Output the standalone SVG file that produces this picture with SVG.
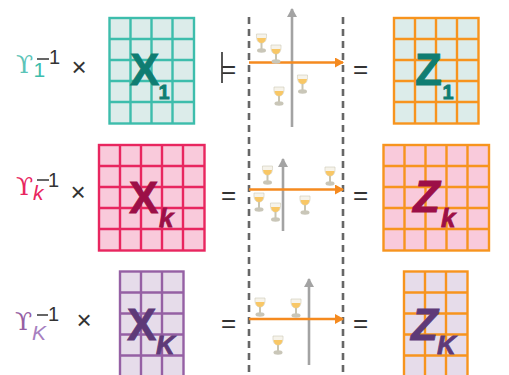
<svg xmlns="http://www.w3.org/2000/svg" width="509" height="375" viewBox="0 0 509 375">
<style>
text{font-family:"Liberation Sans",Arial,sans-serif}
.sym{font-family:"DejaVu Serif","Liberation Serif",serif;font-size:25px}
.sub{font-size:21px}
.sup{font-size:20px;fill:#333}
.op{font-size:26px;fill:#333}
.big{font-size:44px;font-weight:bold}
.idx{font-size:26px;font-weight:bold}
.one{font-size:20px;font-weight:bold}
.i{font-style:italic}
.teal{fill:#0f7d72;stroke:#0f7d72;stroke-width:.8}
.crim{fill:#9c0f47;stroke:#9c0f47;stroke-width:.8}
.plum{fill:#5e3a78;stroke:#5e3a78;stroke-width:.8}
.dash{stroke:#666;stroke-width:2.6;stroke-dasharray:7 5;fill:none}
.gray{stroke:#a3a3a3;stroke-width:2.6;fill:none}
.or{stroke:#f58a1f;stroke-width:2.4;fill:none}
.minus{stroke:#333;stroke-width:1.5}
.gt{fill:#dcecea;stroke:#3dbdac}
.gp{fill:#f9cadb;stroke:#e8265f}
.gv{fill:#e6dcea;stroke:#9560a4}
.zt{fill:#dcecea;stroke:#f7941e}
.zp{fill:#f9cadb;stroke:#f7941e}
.zv{fill:#e6dcea;stroke:#f7941e}
.grid{stroke-width:2.4}
</style>
<defs>
<filter id="soft" x="-20%" y="-20%" width="140%" height="140%"><feGaussianBlur stdDeviation="0.45"/></filter>
<marker id="ag" markerUnits="userSpaceOnUse" markerWidth="10" markerHeight="10" refX="8" refY="5" orient="auto"><path d="M0 0 L9 5 L0 10Z" fill="#a3a3a3"/></marker>
<marker id="ao" markerUnits="userSpaceOnUse" markerWidth="10" markerHeight="10" refX="8" refY="5" orient="auto"><path d="M0 0 L9 5 L0 10Z" fill="#f58a1f"/></marker>
<g id="glass" filter="url(#soft)">
<path d="M-5 -9 C-5.500 -2 -3 0 0 0 C3 0 5.500 -2 5 -9Z" fill="#f6f3ea" stroke="#cfcab5" stroke-width=".6"/>
<path d="M-4.500 -5 C-4 -1.500 -2.500 0 0 0 C2.500 0 4 -1.500 4.500 -5Z" fill="#f8c766"/>
<path d="M-1 0 H1 V6.500 H-1Z" fill="#c9c5b0"/>
<ellipse cx="0" cy="7.500" rx="4.500" ry="2.200" fill="#c9c6b8"/>
</g>
<path id="grid5x5" d="M21 0V105.500M42 0V105.500M63 0V105.500M84 0V105.500M0 21H105.500M0 42H105.500M0 63H105.500M0 84H105.500" fill="none"/>
<path id="grid4x5" d="M21 0V105.500M42 0V105.500M63 0V105.500M0 21H84.500M0 42H84.500M0 63H84.500M0 84H84.500" fill="none"/>
<path id="grid3x5" d="M21 0V105.500M42 0V105.500M0 21H63.500M0 42H63.500M0 63H63.500M0 84H63.500" fill="none"/>
</defs>

<g id="connectors">
<line class="dash" x1="249" y1="17" x2="249" y2="375"/>
<line class="dash" x1="343" y1="17" x2="343" y2="375"/>
<line class="gray" x1="292" y1="127" x2="292" y2="9" marker-end="url(#ag)"/>
<line class="or" x1="249" y1="62.500" x2="343" y2="62.500" marker-end="url(#ao)"/>
<line class="gray" x1="283" y1="231" x2="283" y2="159" marker-end="url(#ag)"/>
<line class="or" x1="249" y1="189.500" x2="343" y2="189.500" marker-end="url(#ao)"/>
<line class="gray" x1="309" y1="365" x2="309" y2="279" marker-end="url(#ag)"/>
<line class="or" x1="249" y1="319" x2="343" y2="319" marker-end="url(#ao)"/>
</g>

<g id="label-1">
<text class="sym" x="16" y="73" fill="#5cc4b8">ϒ</text>
<text class="sub" x="33.500" y="77" fill="#3dbdac">1</text>
<line class="minus" x1="37" y1="59" x2="49" y2="59"/>
<text class="sup" x="49" y="64">1</text>
<text class="op" x="71.500" y="75.500">×</text>
</g>
<g id="matrix-x1">
<rect class="gt grid" x="109.500" y="18" width="84.500" height="105.500"/>
<use href="#grid4x5" x="109.500" y="18" class="grid" stroke="#3dbdac"/>
<text class="big teal" x="130" y="85">X</text>
<text class="one teal" x="158.500" y="99">1</text>
</g>
<g id="eq-1">
<line x1="222" y1="52" x2="222" y2="83" stroke="#444" stroke-width="1.8"/>
<text class="op" x="221" y="78">=</text>
<text class="op" x="353" y="78">=</text>
</g>
<g id="scatter-1">
<use href="#glass" x="261.500" y="43"/>
<use href="#glass" x="276" y="54"/>
<use href="#glass" x="302.500" y="84"/>
<use href="#glass" x="279" y="96"/>
</g>
<g id="matrix-z1">
<rect class="zt grid" x="394" y="18" width="84.500" height="105.500"/>
<use href="#grid4x5" x="394" y="18" class="grid" stroke="#f7941e"/>
<text class="big teal" x="415" y="85">Z</text>
<text class="one teal" x="442.500" y="99">1</text>
</g>

<g id="label-k">
<text class="sym" x="16" y="195" fill="#e8265f">ϒ</text>
<text class="sub i" x="33" y="200" fill="#e8265f">k</text>
<line class="minus" x1="37" y1="180" x2="49" y2="180"/>
<text class="sup" x="48" y="187">1</text>
<text class="op" x="70.500" y="201">×</text>
</g>
<g id="matrix-xk">
<rect class="gp grid" x="99" y="145" width="105.500" height="105.500"/>
<use href="#grid5x5" x="99" y="145" class="grid" stroke="#e8265f"/>
<text class="big crim" x="129" y="213">X</text>
<text class="idx i crim" x="159" y="227">k</text>
</g>
<g id="eq-k">
<text class="op" x="221" y="204">=</text>
<text class="op" x="353" y="204">=</text>
</g>
<g id="scatter-k">
<use href="#glass" x="267.500" y="175"/>
<use href="#glass" x="259" y="202"/>
<use href="#glass" x="275.500" y="212"/>
<use href="#glass" x="305" y="205"/>
<use href="#glass" x="330" y="176"/>
</g>
<g id="matrix-zk">
<rect class="zp grid" x="383.500" y="145" width="105.500" height="105.500"/>
<use href="#grid5x5" x="383.500" y="145" class="grid" stroke="#f7941e"/>
<text class="big i crim" x="413" y="212">Z</text>
<text class="idx i crim" x="441" y="227">k</text>
</g>

<g id="label-K">
<text class="sym" x="15" y="330" fill="#9560a4">ϒ</text>
<text class="sub i" x="32" y="340" fill="#a77fc0">K</text>
<line class="minus" x1="37" y1="315" x2="48" y2="315"/>
<text class="sup" x="48" y="321">1</text>
<text class="op" x="76.500" y="329">×</text>
</g>
<g id="matrix-xK">
<rect class="gv grid" x="120" y="271.500" width="63.500" height="105.500"/>
<use href="#grid3x5" x="120" y="271.500" class="grid" stroke="#9560a4"/>
<text class="big plum" x="127" y="340">X</text>
<text class="idx i plum" x="156" y="354">K</text>
</g>
<g id="eq-K">
<text class="op" x="221" y="332">=</text>
<text class="op" x="353" y="332">=</text>
</g>
<g id="scatter-K">
<use href="#glass" x="260" y="307"/>
<use href="#glass" x="296" y="308"/>
<use href="#glass" x="278" y="345"/>
</g>
<g id="matrix-zK">
<rect class="zv grid" x="404" y="271.500" width="63.500" height="105.500"/>
<use href="#grid3x5" x="404" y="271.500" class="grid" stroke="#f7941e"/>
<text class="big i plum" x="411" y="340">Z</text>
<text class="idx i plum" x="437" y="354">K</text>
</g>
</svg>
